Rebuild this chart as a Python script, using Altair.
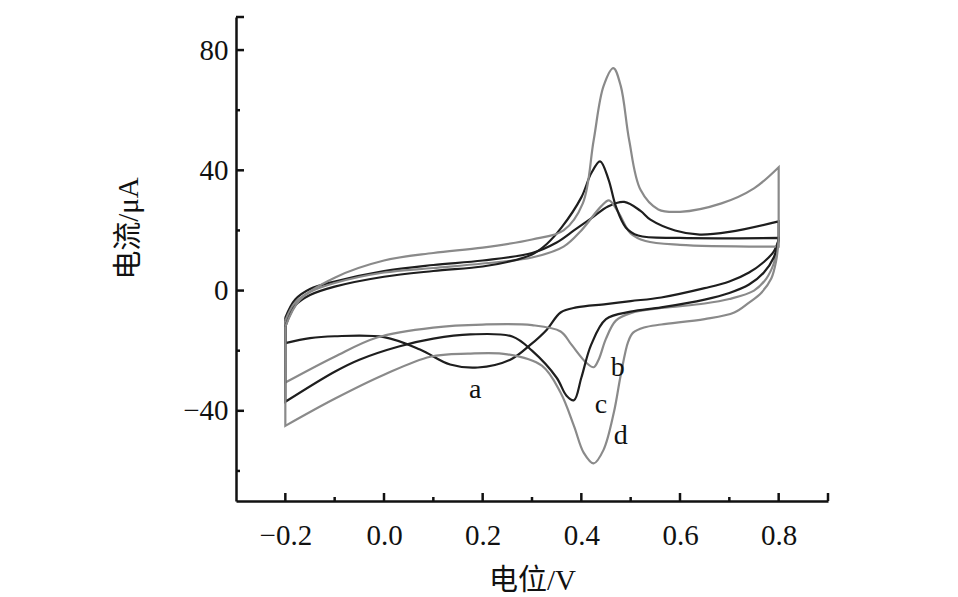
import altair as alt
import pandas as pd

# ---- data (potential in V, current in µA) ----
a_x = [-0.2, -0.18, -0.15, -0.1, 0.0, 0.1, 0.2, 0.3, 0.35, 0.385, 0.42, 0.454, 0.487, 0.52, 0.54, 0.59, 0.64, 0.7, 0.8,
       0.8, 0.79, 0.77, 0.74, 0.7, 0.65, 0.562, 0.5, 0.45, 0.39, 0.358, 0.33, 0.297, 0.256, 0.19, 0.134, 0.073, 0.0, -0.1, -0.15, -0.2, -0.2]
a_y = [-9, -3, 0.5, 3, 6.5, 8.5, 10, 12.5, 16, 20, 24, 28, 29.5, 26.5, 23.6, 20, 18.6, 19.5, 23,
       17, 13, 9.5, 6, 3, 0.8, -2.3, -3.5, -4.5, -5.6, -7.3, -13, -18, -23, -25.6, -24.6, -19.6, -15.5, -15.2, -15.8, -17.5, -9]

b_x = [-0.2, -0.18, -0.15, -0.1, 0.0, 0.1, 0.2, 0.3, 0.364, 0.4, 0.44, 0.456, 0.475, 0.5, 0.53, 0.6, 0.8,
       0.8, 0.79, 0.775, 0.75, 0.7, 0.65, 0.562, 0.5, 0.47, 0.45, 0.435, 0.425, 0.41, 0.38, 0.358, 0.3, 0.2, 0.1, -0.014, -0.1, -0.2, -0.2]
b_y = [-10, -4, -0.5, 2.5, 6, 7.5, 9, 11, 14.6, 20, 28, 30, 26, 19, 16.5, 15.2, 14.6,
       17, 9, 4, 0, -2.8, -4.3, -5.8, -7.5, -10, -16, -23, -25.5, -24, -18, -13.6, -11.5, -11.3, -12.3, -15.6, -22, -30.6, -10]

c_x = [-0.2, -0.18, -0.15, -0.1, 0.0, 0.1, 0.2, 0.25, 0.3, 0.33, 0.36, 0.4, 0.42, 0.438, 0.455, 0.47, 0.49, 0.515, 0.6, 0.8,
       0.8, 0.79, 0.77, 0.74, 0.7, 0.65, 0.562, 0.5, 0.45, 0.42, 0.4, 0.385, 0.37, 0.35, 0.3, 0.26, 0.175, 0.1, 0.03, -0.05, -0.1, -0.2, -0.2]
c_y = [-12, -5, -1.5, 1.3, 4.6, 6.5, 8, 9.5, 12, 15.5, 21, 31, 39, 43, 37, 28, 21, 18.3, 17.5, 17.5,
       17, 11, 6, 2, -0.8, -3, -5.6, -7, -9.5, -18, -29, -36.5, -35, -29, -20, -15.3, -14.6, -16, -18.6, -23, -27, -37, -12]

d_x = [-0.2, -0.17, -0.1, 0.0, 0.1, 0.2, 0.3, 0.364, 0.403, 0.425, 0.445, 0.465, 0.48, 0.497, 0.52, 0.556, 0.6, 0.684, 0.75, 0.8,
       0.8, 0.795, 0.785, 0.765, 0.74, 0.71, 0.65, 0.562, 0.527, 0.505, 0.495, 0.48, 0.466, 0.445, 0.425, 0.405, 0.385, 0.358, 0.32, 0.25, 0.17, 0.094, 0.0, -0.1, -0.2, -0.2]
d_y = [-12, -3, 4.3, 10, 12.5, 14.3, 17, 20, 29, 50, 68, 74, 68, 50, 33.5, 27, 26.2, 29, 34, 41,
       17, 10, 4, -0.7, -4, -7.3, -9.5, -11.3, -12.3, -14, -17, -28, -40.5, -53, -57.5, -54, -45, -34, -25, -21.2, -21, -22, -28, -36, -45, -12]

curve_names = ["a", "b", "c", "d"]
curve_colors = ["#1e1e1e", "#8a8a8a", "#1e1e1e", "#8a8a8a"]

label_text = ["a", "b", "c", "d"]
label_x = [0.185, 0.474, 0.44, 0.48]
label_y = [-33, -25.6, -38, -48.5]

x_ticks = [-0.2, 0.0, 0.2, 0.4, 0.6, 0.8]
x_minor = [-0.1, 0.1, 0.3, 0.5, 0.7]
y_ticks = [-40, 0, 40, 80]
y_minor = [-60, -20, 20, 60]
x_dom = [-0.3, 0.9]
y_dom = [-70, 91]

# ---- build tables (corner points of vertical segments are repeated so the
#      smoothed path keeps sharp corners there) ----
rows = []
for name, xs_, ys_ in zip(curve_names, [a_x, b_x, c_x, d_x], [a_y, b_y, c_y, d_y]):
    k = 0
    n = len(xs_)
    for i in range(n):
        reps = 1
        if (i + 1 < n and xs_[i + 1] == xs_[i]) or (i > 0 and xs_[i - 1] == xs_[i]):
            reps = 2
        for _ in range(reps):
            rows.append({"curve": name, "E": xs_[i], "I": ys_[i], "i": k})
            k += 1
df = pd.DataFrame(rows)
labels = pd.DataFrame({"t": label_text, "E": label_x, "I": label_y})

W, H = 592, 484
FONT = "Liberation Serif, Noto Sans CJK SC"

xs = alt.Scale(domain=x_dom, nice=False, zero=False)
ys = alt.Scale(domain=y_dom, nice=False, zero=False)

x_axis = alt.Axis(values=x_ticks, title="电位/V", ticks=False, tickSize=0, grid=False,
                  domainColor="#111", domainWidth=2.5,
                  labelExpr="replace(format(datum.value, '.1f'), '-', '−')",
                  labelFont=FONT, labelFontSize=29, labelColor="#111", labelPadding=20,
                  labelFlush=False,
                  titleFont=FONT, titleFontSize=29, titleFontWeight="normal", titleColor="#111",
                  titleBaseline="middle", titleY=79, titleX=W / 2)
y_axis = alt.Axis(values=y_ticks, title="电流/μA", ticks=False, tickSize=0, grid=False,
                  domainColor="#111", domainWidth=2.5,
                  labelExpr="replace(format(datum.value, '.0f'), '-', '−')",
                  labelFont=FONT, labelFontSize=29, labelColor="#111", labelPadding=8,
                  labelFlush=False,
                  titleFont=FONT, titleFontSize=29, titleFontWeight="normal", titleColor="#111",
                  titleAngle=-90, titleBaseline="middle", titleAlign="center",
                  titleX=-108, titleY=211)

lines = alt.Chart(df).mark_line(strokeWidth=2.2, interpolate="catmull-rom").encode(
    x=alt.X("E:Q", scale=xs, axis=x_axis),
    y=alt.Y("I:Q", scale=ys, axis=y_axis),
    color=alt.Color("curve:N", scale=alt.Scale(domain=curve_names, range=curve_colors), legend=None),
    detail="curve:N",
    order="i:Q",
)

text = alt.Chart(labels).mark_text(font=FONT, fontSize=28, color="#111").encode(
    x=alt.X("E:Q", scale=xs), y=alt.Y("I:Q", scale=ys), text="t:N")

tick_style = dict(color="#111", strokeWidth=2.5)
xt_major = alt.Chart(pd.DataFrame({"v": x_ticks + [x_dom[1]]})).mark_rule(**tick_style).encode(
    x=alt.X("v:Q", scale=xs), y=alt.value(H), y2=alt.value(H - 8))
xt_minor = alt.Chart(pd.DataFrame({"v": x_minor})).mark_rule(**tick_style).encode(
    x=alt.X("v:Q", scale=xs), y=alt.value(H), y2=alt.value(H - 4))
yt_major = alt.Chart(pd.DataFrame({"v": y_ticks + [y_dom[1]]})).mark_rule(**tick_style).encode(
    y=alt.Y("v:Q", scale=ys), x=alt.value(0), x2=alt.value(8))
yt_minor = alt.Chart(pd.DataFrame({"v": y_minor})).mark_rule(**tick_style).encode(
    y=alt.Y("v:Q", scale=ys), x=alt.value(0), x2=alt.value(4))

chart = alt.layer(lines, text, xt_major, xt_minor, yt_major, yt_minor).properties(
    width=W, height=H,
    autosize=alt.AutoSizeParams(type="none"),
    padding={"left": 228, "top": 9, "right": 122, "bottom": 96},
    background="white",
).configure_view(stroke=None)

chart.save("out.html", embed_options={"renderer": "svg", "actions": False})
